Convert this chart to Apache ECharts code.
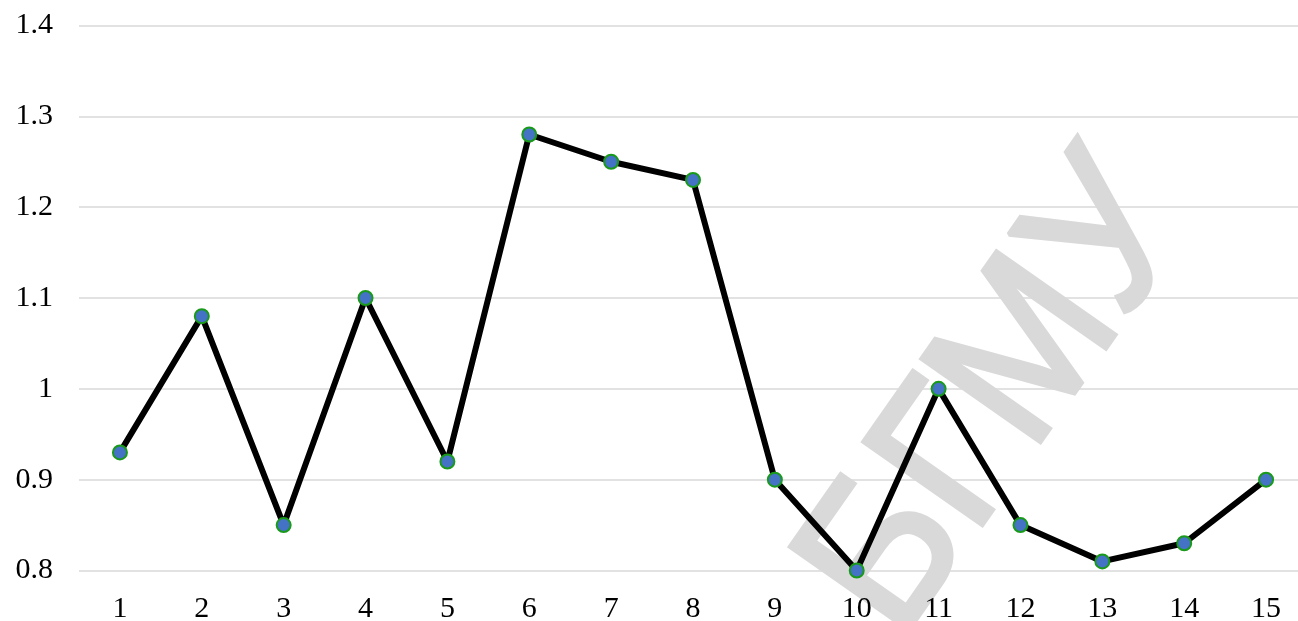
<!DOCTYPE html>
<html>
<head>
<meta charset="utf-8">
<title>Line chart</title>
<script src="https://cdn.jsdelivr.net/npm/echarts@6/dist/echarts.min.js"></script>
<style>
  html, body { margin: 0; padding: 0; background: #ffffff; overflow: hidden; }
  #chart { width: 1298px; height: 621px; }
</style>
</head>
<body>
<div id="chart"></div>
<script>
// Sample numbers along the x axis
const categories = ['1', '2', '3', '4', '5', '6', '7', '8', '9', '10', '11', '12', '13', '14', '15'];
// Measured values for each sample
const values = [0.93, 1.08, 0.85, 1.10, 0.92, 1.28, 1.25, 1.23, 0.90, 0.80, 1.00, 0.85, 0.81, 0.83, 0.90];
// Value axis range and step
const yMin = 0.8;
const yMax = 1.4;
const yStep = 0.1;
// Background stamp text
const stampText = 'БГМУ';

const chart = echarts.init(document.getElementById('chart'), null, { renderer: 'canvas' });

const labelFont = {
  fontFamily: '"Liberation Serif", "Times New Roman", serif',
  fontSize: 30,
  color: '#000000'
};

chart.setOption({
  animation: false,
  backgroundColor: '#ffffff',
  // plot area runs a little past the right edge of the page
  grid: {
    left: 79, width: 1228, top: 25.5, bottom: 50.5,
    containLabel: false,
    outerBoundsMode: 'none'
  },
  xAxis: {
    type: 'category',
    data: categories,
    boundaryGap: true,
    axisLine: { show: false },
    axisTick: { show: false },
    axisLabel: Object.assign({ margin: 24, interval: 0 }, labelFont)
  },
  yAxis: {
    type: 'value',
    min: yMin,
    max: yMax,
    interval: yStep,
    axisLine: { show: false },
    axisTick: { show: false },
    splitLine: { show: true, lineStyle: { color: '#d9d9d9', width: 1.5 } },
    axisLabel: Object.assign({
      margin: 26,
      formatter: function (v) { return String(Math.round(v * 10) / 10); }
    }, labelFont)
  },
  graphic: [{
    type: 'text',
    z: -10,
    silent: true,
    x: 1000,
    y: 398,
    rotation: 55 * Math.PI / 180,
    scaleX: 0.93,
    style: {
      text: stampText,
      fontFamily: '"Liberation Sans", Arial, sans-serif',
      fontSize: 210,
      fill: '#d9d9d9',
      stroke: '#d9d9d9',
      lineWidth: 5,
      lineJoin: 'miter',
      align: 'center',
      verticalAlign: 'middle'
    }
  }],
  series: [{
    type: 'line',
    data: values,
    z: 5,
    lineStyle: { color: '#000000', width: 6 },
    symbol: 'circle',
    symbolSize: 14,
    itemStyle: { color: '#4472c4', borderColor: '#1a9a1a', borderWidth: 2 },
    emphasis: { disabled: true }
  }]
});
</script>
</body>
</html>
